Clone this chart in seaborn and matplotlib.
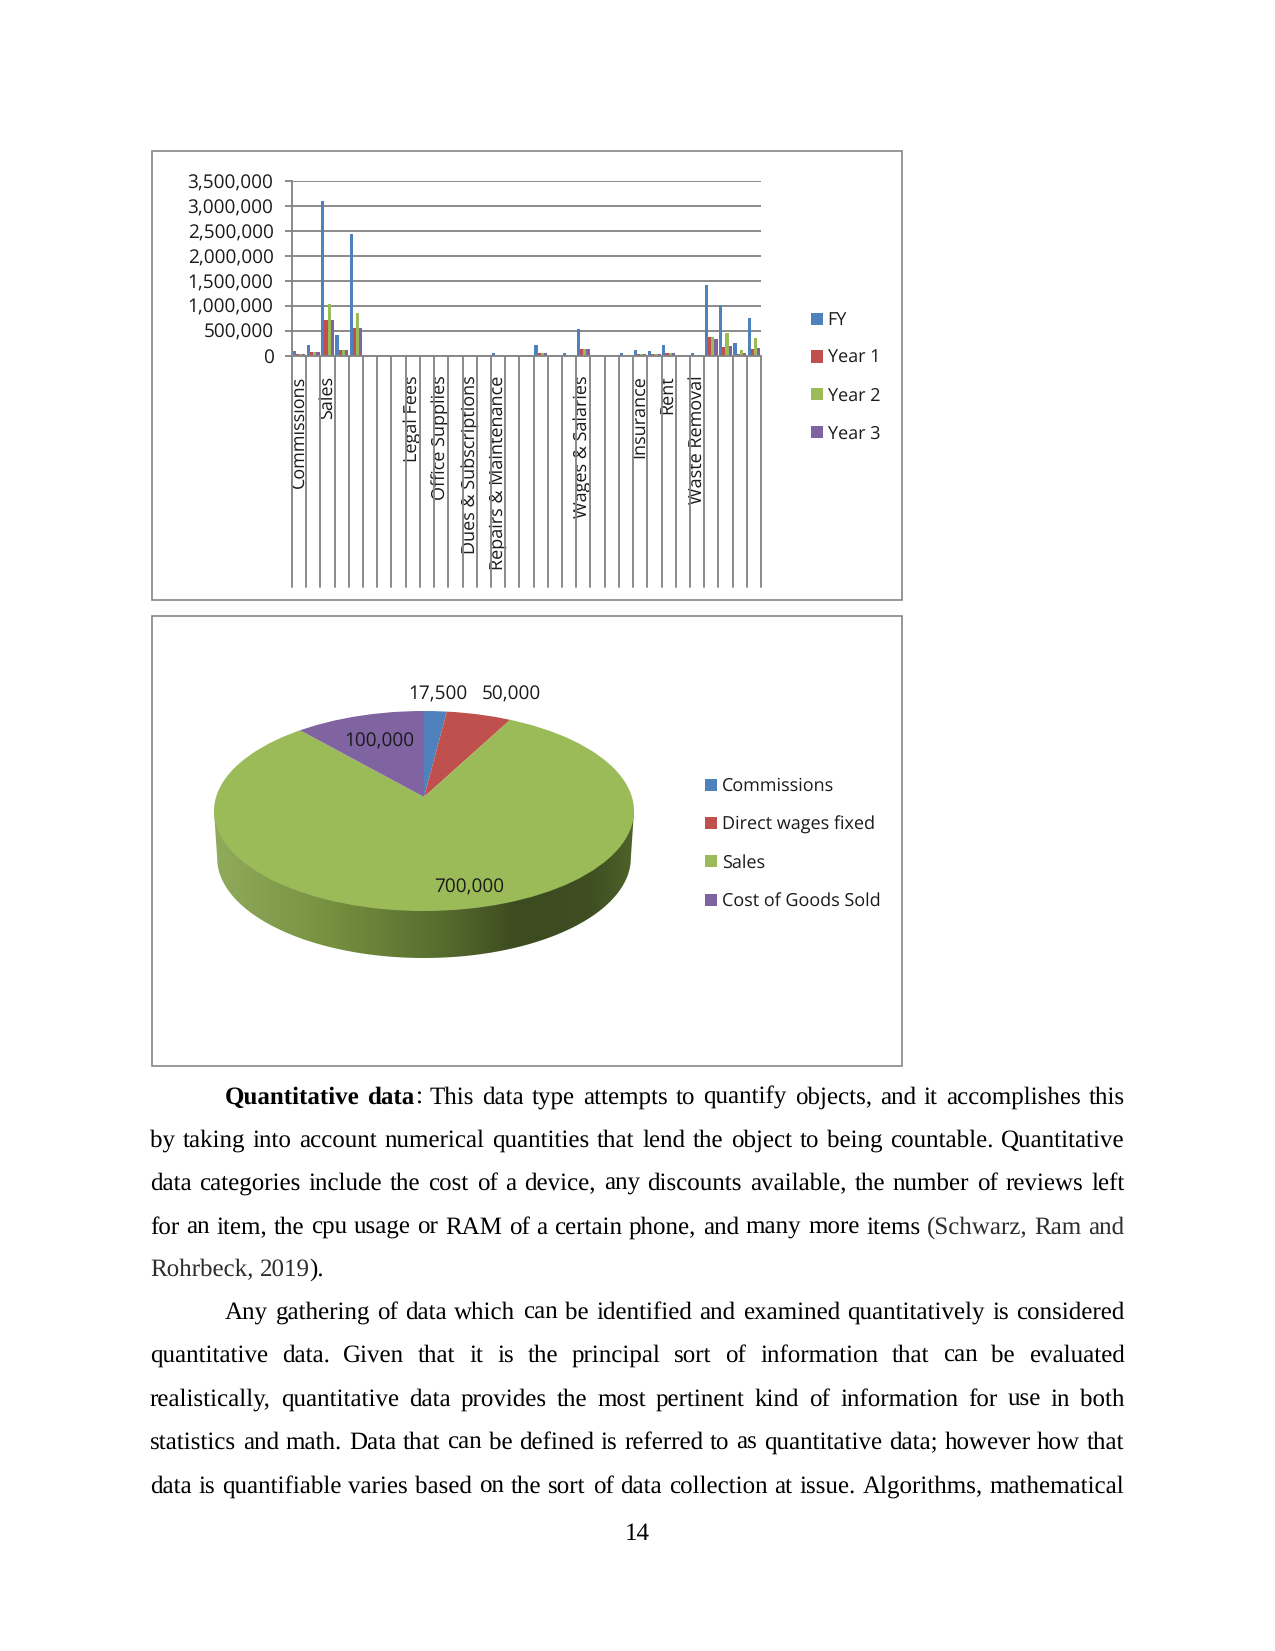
import numpy as np
import pandas as pd
import matplotlib
matplotlib.use("Agg")
import matplotlib.pyplot as plt
import seaborn as sns
from matplotlib.patches import Rectangle, Circle, PathPatch
from matplotlib.path import Path
from matplotlib.colors import LinearSegmentedColormap
from matplotlib.ticker import FuncFormatter

# bar chart data
n_cats = 33
cat_labels = {0: "Commissions", 2: "Sales", 8: "Legal Fees", 10: "Office Supplies",
              12: "Dues & Subscriptions", 14: "Repairs & Maintenance",
              20: "Wages & Salaries", 24: "Insurance", 26: "Rent", 28: "Waste Removal"}
fy = [90000, 215000, 3100000, 415000, 2430000, 8000, 8000, 8000, 8000, 8000, 8000,
      8000, 8000, 8000, 60000, 10000, 10000, 215000, 10000, 50000, 530000, 10000,
      10000, 45000, 105000, 100000, 205000, 15000, 45000, 1420000, 1020000, 260000, 760000]
year1 = [25000, 70000, 720000, 110000, 560000, 3000, 3000, 3000, 3000, 3000, 3000,
         3000, 3000, 3000, 15000, 3000, 3000, 60000, 3000, 15000, 140000, 3000,
         3000, 12000, 25000, 25000, 55000, 5000, 12000, 375000, 170000, 40000, 140000]
year2 = [25000, 70000, 1030000, 110000, 850000, 3000, 3000, 3000, 3000, 3000, 3000,
         3000, 3000, 3000, 15000, 3000, 3000, 60000, 3000, 15000, 140000, 3000,
         3000, 12000, 25000, 25000, 55000, 5000, 12000, 370000, 460000, 120000, 350000]
year3 = [25000, 70000, 720000, 110000, 560000, 3000, 3000, 3000, 3000, 3000, 3000,
         3000, 3000, 3000, 15000, 3000, 3000, 60000, 3000, 15000, 140000, 3000,
         3000, 12000, 25000, 25000, 55000, 5000, 12000, 340000, 195000, 60000, 150000]
series_names = ["FY", "Year 1", "Year 2", "Year 3"]

# pie data
pie_labels = ["Commissions", "Direct wages fixed", "Sales", "Cost of Goods Sold"]
pie_values = [17500, 50000, 700000, 100000]

office = ["#4F81BD", "#C0504D", "#9BBB59", "#8064A2"]
grey = "#868686"
ink = "#1a1a1a"
W, H = 1275, 1651

sns.set_theme(style="white")
plt.rcParams["font.family"] = ["Open Sans", "DejaVu Sans"]
plt.rcParams["text.hinting"] = "no_hinting"
plt.rcParams["text.hinting_factor"] = 1

fig = plt.figure(figsize=(W / 150, H / 150), dpi=150)


def px_axes(x0, y0, x1, y1):
    return fig.add_axes([x0 / W, 1 - y1 / H, (x1 - x0) / W, (y1 - y0) / H])


def frame(x0, y0, x1, y1):
    fig.add_artist(Rectangle((x0 / W, 1 - y1 / H), (x1 - x0) / W, (y1 - y0) / H,
                             transform=fig.transFigure, fill=False, ec=grey, lw=0.8))


frame(152, 151, 902, 600)
frame(152, 616, 902, 1066)

# 1. Bar chart
df = pd.DataFrame({
    "cat": list(range(n_cats)) * 4,
    "series": np.repeat(series_names, n_cats),
    "value": fy + year1 + year2 + year3,
})
ax = px_axes(292, 181, 761, 355.7)
sns.barplot(data=df, x="cat", y="value", hue="series", palette=office, width=0.88,
            gap=0, saturation=1, linewidth=0, ax=ax, legend=True)
ax.set_xlim(-0.5, n_cats - 0.5)
ax.set_ylim(0, 3500000)
ax.set_xlabel("")
ax.set_ylabel("")
ax.yaxis.set_major_formatter(FuncFormatter(lambda v, _: f"{int(v):,}"))
ax.set_yticks(np.arange(0, 3500001, 500000))
ax.grid(axis="y", color=grey, lw=0.9)
ax.set_axisbelow(True)
for s in ["top", "right"]:
    ax.spines[s].set_visible(False)
for s in ["left", "bottom"]:
    ax.spines[s].set_color(grey)
    ax.spines[s].set_linewidth(0.9)
ax.tick_params(axis="y", length=3.4, width=0.9, color=grey, left=True, pad=5.5, labelsize=9.2, labelcolor=ink)
ax.set_xticks(range(n_cats))
ax.set_xticklabels([cat_labels.get(i, "") for i in range(n_cats)], rotation=90, fontsize=8.7,
                   color=ink)
ax.tick_params(axis="x", length=0, pad=9.5)
for i in range(n_cats + 1):
    ax.plot([i - 0.5, i - 0.5], [0, -1.324], transform=ax.get_xaxis_transform(),
            color=grey, lw=0.9, clip_on=False, zorder=1)
handles, labels = ax.get_legend_handles_labels()
ax.legend(handles, labels, loc="upper left", bbox_to_anchor=(811 / W, 1 - 311.5 / H),
          bbox_transform=fig.transFigure, frameon=False, fontsize=8.8, handlelength=0.66,
          handleheight=0.66, handletextpad=0.25, labelspacing=1.08, borderpad=0, borderaxespad=0,
          labelcolor=ink)

# 2. Pie chart: x and y units are the top ellipse's radii
pcx, pcy, prx, pry = 424, 811, 210, 100
depth = 47 / pry
pax = px_axes(pcx - 1.1 * prx, pcy - 1.1 * pry, pcx + 1.1 * prx, pcy + 1.6 * pry)
apex_y = 0.14
wedges, _ = pax.pie(pie_values, colors=office, startangle=90, counterclock=False,
                    center=(0, apex_y), radius=1.4)
pax.set_aspect("auto")

# side wall, drawn under the top face
theta = np.linspace(np.pi, 2 * np.pi, 120)
bx = 0.985 * np.cos(theta)
by = np.sin(theta) - depth
wall_x = np.concatenate([[-1], bx, [1]])
wall_y = np.concatenate([[0], by, [0]])
wall = Path(np.column_stack([wall_x, wall_y]))
wall_cmap = LinearSegmentedColormap.from_list(
    "wall", [(0, "#90AB5C"), (0.28, "#75903F"), (0.55, "#566B2E"), (0.72, "#3D4B20"),
             (0.9, "#3F4F22"), (1, "#4E6229")])
img = pax.imshow(np.linspace(0, 1, 256)[None, :], cmap=wall_cmap, extent=(-1, 1, -1.6, 1),
                 aspect="auto", zorder=0.5)
wall_patch = PathPatch(wall, transform=pax.transData, fc="none", ec="none")
pax.add_patch(wall_patch)
img.set_clip_path(wall_patch)
pax.set_xlim(-1.1, 1.1)
pax.set_ylim(-1.6, 1.1)
pax.set_axis_off()

top_clip = Circle((0, 0), 1, transform=pax.transData, fc="none", ec="none")
pax.add_patch(top_clip)
for w in wedges:
    w.set_clip_on(True)
    w.set_clip_path(top_clip)
    w.set_zorder(2)
    w.set_linewidth(0)

label_pos = [(438, 694.5), (511, 694.5), (469, 887.5), (379, 741.5)]
for v, (x, y) in zip(pie_values, label_pos):
    fig.text(x / W, 1 - y / H, f"{v:,}", fontsize=9, ha="center", va="center", color=ink)

pie_handles = [Rectangle((0, 0), 1, 1, fc=c, ec="none", lw=0) for c in office]
fig.legend(pie_handles, pie_labels, loc="upper left", bbox_to_anchor=(705 / W, 1 - 777.5 / H),
           frameon=False, fontsize=8.6, handlelength=0.66, handleheight=0.66, handletextpad=0.3,
           labelspacing=1.13, borderpad=0, borderaxespad=0, labelcolor=ink)

# 3. Body text, set word by word so lines are justified
body_font = "Liberation Serif"
left, right, indent = 150, 1124.5, 225
cite = "#2e2e2e"
lines = [
    (1104, indent, True, [("Quantitative data", "bold", "black"), (": This data type attempts to quantify objects, and it accomplishes this", "normal", "black")]),
    (1147, left, True, [("by taking into account numerical quantities that lend the object to being countable. Quantitative", "normal", "black")]),
    (1190, left, True, [("data categories include the cost of a device, any discounts available, the number of reviews left", "normal", "black")]),
    (1234, left, True, [("for an item, the cpu usage or RAM of a certain phone, and many more items", "normal", "black"), (" (Schwarz, Ram and", "normal", cite)]),
    (1276, left, False, [("Rohrbeck, 2019", "normal", cite), (").", "normal", "black")]),
    (1319, indent, True, [("Any gathering of data which can be identified and examined quantitatively is considered", "normal", "black")]),
    (1362, left, True, [("quantitative data. Given that it is the principal sort of information that can be evaluated", "normal", "black")]),
    (1406, left, True, [("realistically, quantitative data provides the most pertinent kind of information for use in both", "normal", "black")]),
    (1449, left, True, [("statistics and math. Data that can be defined is referred to as quantitative data; however how that", "normal", "black")]),
    (1493, left, True, [("data is quantifiable varies based on the sort of data collection at issue. Algorithms, mathematical", "normal", "black")]),
]
renderer = fig.canvas.get_renderer()


def advance(s, weight="normal"):
    # bars either side so that the bearings and spaces are counted
    t = fig.text(0, 0, "|" + s + "|", family=body_font, fontsize=12, weight=weight)
    w = t.get_window_extent(renderer).width
    t.set_text("||")
    w -= t.get_window_extent(renderer).width
    t.remove()
    return w


for y, x0, justify, runs in lines:
    words = []
    for run_text, weight, color in runs:
        # a run that starts without a space stays glued to the previous word
        glued = len(words) > 0 and not run_text.startswith(" ")
        for j, p in enumerate(run_text.split()):
            words.append((p, weight, color, glued and j == 0))
    widths = [advance(w[0], w[1]) for w in words]
    n_gaps = sum(1 for w in words[1:] if not w[3])
    gap = (right - x0 - sum(widths)) / n_gaps if justify else advance(" ")
    x = x0
    for i, ((word, weight, color, glued), adv) in enumerate(zip(words, widths)):
        if glued:
            x -= gap
        fig.text(x / W, 1 - y / H, word, family=body_font, fontsize=12, weight=weight,
                 va="baseline", color=color)
        x += adv + gap

fig.text(637 / W, 1 - 1540 / H, "14", family=body_font, fontsize=12, ha="center", va="baseline", color="black")

fig.savefig("out.png", dpi=150, facecolor="white")
